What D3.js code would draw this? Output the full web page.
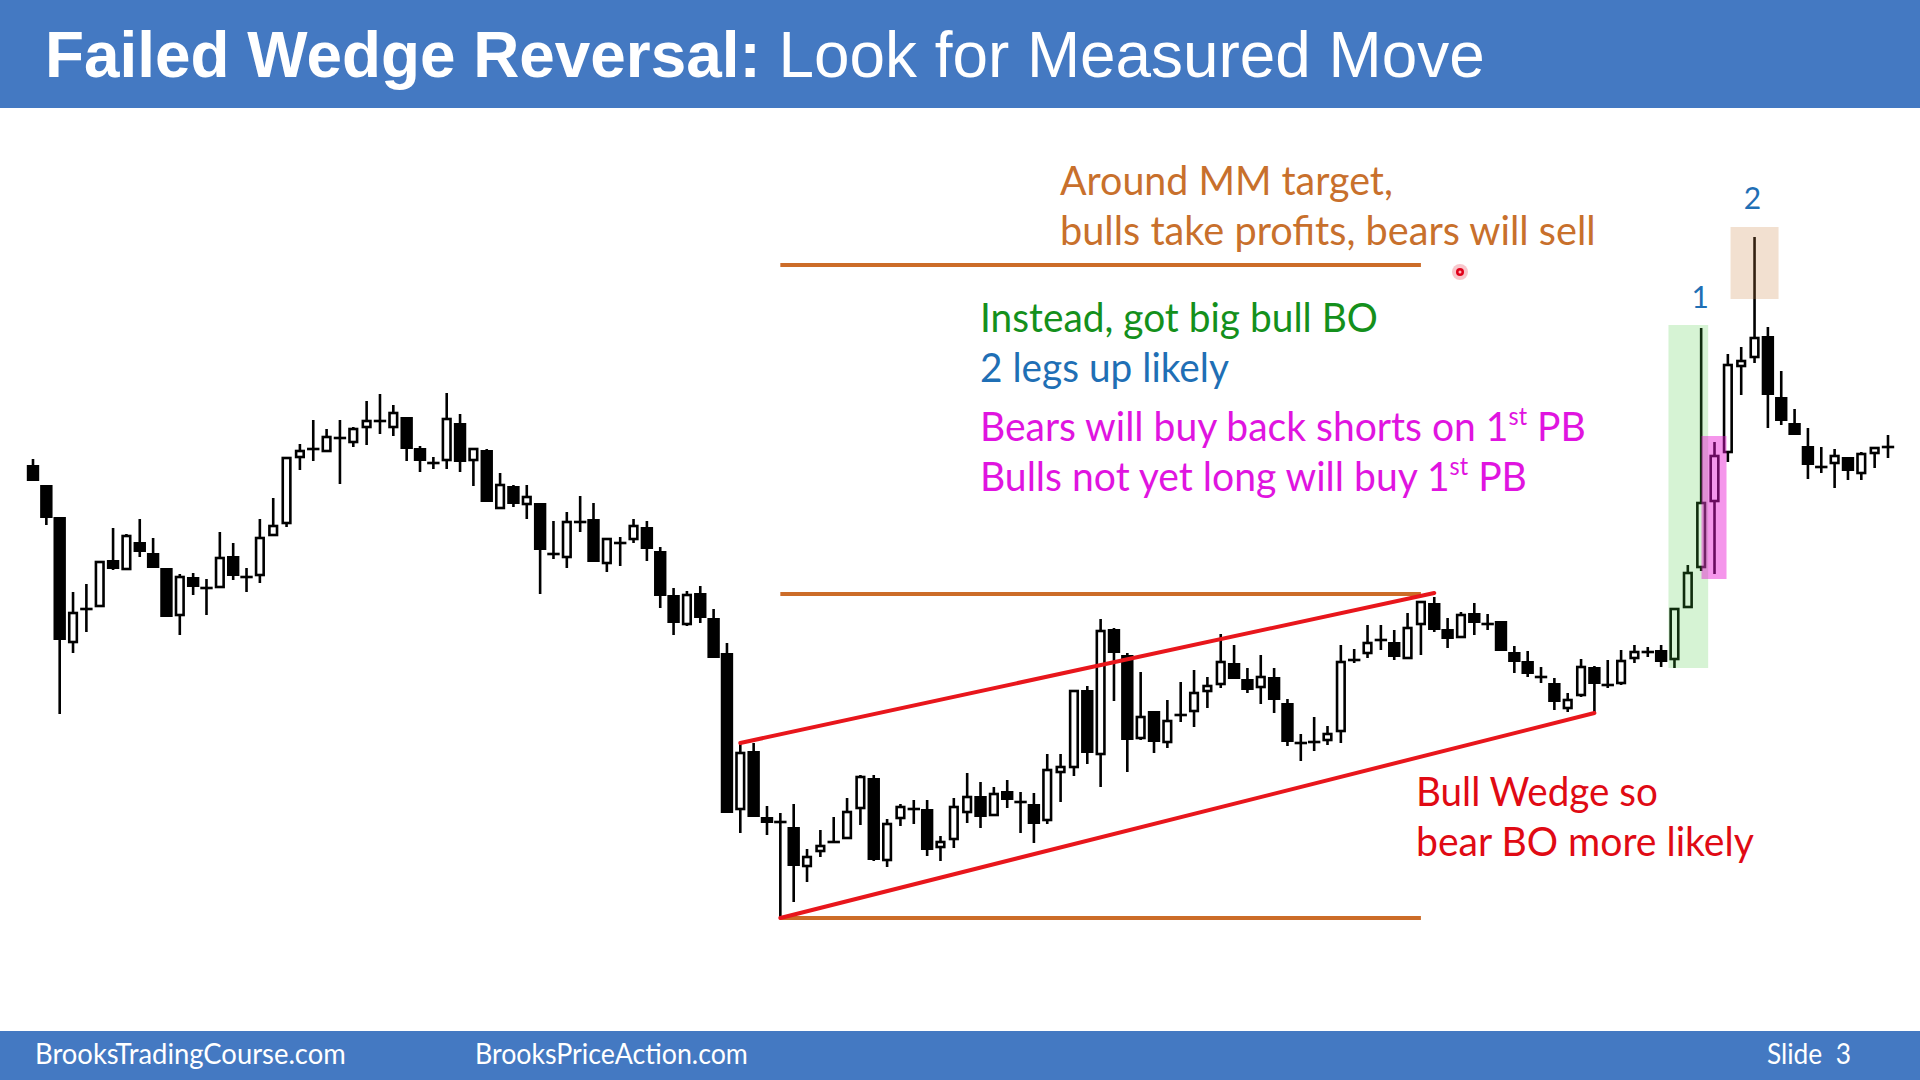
<!DOCTYPE html>
<html>
<head>
<meta charset="utf-8">
<script src="https://cdn.jsdelivr.net/npm/d3@7"></script>
<style>
  body { margin: 0; background: #fff; }
  svg { display: block; }
</style>
</head>
<body>
<div id="viz"></div>
<script>
// OHLC, one value per bar (arbitrary price units)
const open = [535,515,483,358,391,394,440,431,458,447,432,385,423,412,413,444,423,425,465,477,
  543,551,549,562,558,573,579,573,583,552,537,540,577,540,550,492,514,496,497,446,
  443,478,481,437,457,461,473,449,405,376,407,382,347,191,249,183,178,173,134,149,
  158,162,192,222,140,182,191,191,153,161,188,204,185,209,198,196,180,228,233,310,
  246,371,345,262,289,258,285,289,309,316,337,321,313,323,297,257,258,260,269,340,
  347,360,358,342,376,397,371,363,387,376,379,348,339,323,317,292,305,333,315,317,
  342,348,350,341,393,433,499,548,634,643,664,603,577,554,533,537,543,527,547,553];
const high = [541,515,483,408,416,439,472,466,481,462,432,426,427,421,468,457,432,481,502,543,
  556,580,571,580,573,599,606,595,583,554,543,607,586,551,551,527,515,515,497,479,
  488,504,497,462,463,481,479,453,412,409,414,391,357,257,257,194,187,196,151,170,
  183,202,225,225,181,196,200,200,164,202,227,218,213,220,208,207,246,246,309,314,
  381,372,347,328,289,300,318,330,323,366,355,332,345,332,301,266,283,274,355,351,
  375,375,370,387,398,403,382,388,397,386,379,354,349,333,322,307,341,334,340,350,
  355,353,355,391,435,672,558,646,653,763,673,629,591,572,553,551,543,548,552,565];
const low = [519,475,286,347,368,393,430,430,443,432,383,365,405,385,413,420,408,417,464,473,
  530,539,548,516,553,555,566,564,539,528,531,531,528,514,498,492,493,481,406,441,
  432,468,438,428,434,457,439,392,365,374,377,342,187,167,183,165,82,98,118,143,
  157,161,175,139,133,174,176,144,139,152,177,172,185,192,167,157,176,198,224,236,
  213,299,228,260,247,252,278,273,292,312,321,307,296,287,254,239,249,255,257,337,
  342,350,340,342,345,368,352,363,365,370,349,327,323,317,290,288,303,287,312,315,
  337,343,333,332,393,429,426,538,605,637,572,575,565,521,527,512,520,520,532,542];
const close = [519,482,360,387,391,438,431,464,448,432,383,423,413,412,442,424,423,462,474,542,
  549,551,563,562,571,579,579,587,551,539,537,581,538,551,498,515,496,503,450,446,
  478,478,438,461,457,474,451,404,377,405,382,342,187,247,183,177,178,134,143,154,
  158,188,223,140,176,193,191,150,158,193,203,183,206,200,198,176,230,233,309,247,
  369,347,260,283,258,279,285,307,314,338,321,310,323,300,258,257,258,266,338,340,
  357,360,343,372,398,370,361,385,377,376,349,338,326,323,298,300,333,316,315,339,
  348,348,338,391,427,497,544,635,639,662,605,579,565,535,533,544,529,546,552,553];

// measured-move levels, wedge trendlines [bar, price], highlighted bars
const mmLevels = [82, 406, 735];
const mmBars = [56, 104];
const wedgeUpper = [[53, 257], [105, 407]];
const wedgeLower = [[56, 82], [117, 287]];
const legBars = [125, 129];          // "1" and "2"
const bullBoBars = [123, 125];       // green zone
const pullbackBar = 126;             // pink zone
const climaxBar = 129;               // tan zone

const W = 1920, H = 1080;
const svg = d3.select("#viz").append("svg")
    .attr("width", W)
    .attr("height", H)
    .style("font-family", "Lato, 'Open Sans', sans-serif");

svg.append("rect").attr("width", W).attr("height", H).attr("fill", "#ffffff");

const x = d3.scaleLinear().domain([0, open.length - 1]).range([33, 1888]);
const y = d3.scaleLinear().domain([80, 780]).range([920, 220]);

// text helper: squeeze each line horizontally to the width it has on the slide
function label(parent, px, py, width, parts, opts) {
    const g = parent.append("g").attr("transform", `translate(${px},${py})`);
    const t = g.append("text")
        .attr("x", 0).attr("y", 0)
        .attr("fill", opts.color)
        .attr("font-size", opts.size)
        .style("font-family", opts.family || "Lato, sans-serif");
    parts.forEach(p => {
        const s = t.append("tspan").text(p.t);
        if (p.bold) s.attr("font-weight", "bold");
        if (p.sup) s.attr("font-size", opts.size * 0.6).attr("dy", -opts.size * 0.38);
        if (p.after) s.attr("dy", opts.size * 0.38);
    });
    if (width) {
        const w = t.node().getBBox().width;
        g.attr("transform", `translate(${px},${py}) scale(${width / w},1)`);
    }
    if (opts.anchor) t.attr("text-anchor", opts.anchor);
    return g;
}

// header / footer bars
svg.append("rect").attr("x", 0).attr("y", 0).attr("width", W).attr("height", 108).attr("fill", "#4479c2");
svg.append("rect").attr("x", 0).attr("y", 1031).attr("width", W).attr("height", 49).attr("fill", "#4479c2");

label(svg, 45, 77, 1440, [{t: "Failed Wedge Reversal:", bold: true}, {t: " Look for Measured Move"}],
    {color: "#ffffff", size: 64, family: "'Liberation Sans', Arial, sans-serif"});

label(svg, 35, 1064, 311, [{t: "BrooksTradingCourse.com"}], {color: "#ffffff", size: 28});
label(svg, 475, 1064, 273, [{t: "BrooksPriceAction.com"}], {color: "#ffffff", size: 28});
label(svg, 1767, 1064, 84, [{t: "Slide\u00a0 3"}], {color: "#ffffff", size: 28});

// measured move lines
const lines = svg.append("g");
lines.selectAll("line.mm")
    .data(mmLevels)
    .join("line")
        .attr("class", "mm")
        .attr("x1", x(mmBars[0]))
        .attr("x2", x(mmBars[1]))
        .attr("y1", d => y(d))
        .attr("y2", d => y(d))
        .attr("stroke", "#cc6c28")
        .attr("stroke-width", 4);

// candles
const bars = svg.append("g")
    .selectAll("g")
    .data(open.map((o, i) => ({i: i, o: o, h: high[i], l: low[i], c: close[i]})))
    .join("g");

bars.append("line")
    .attr("x1", d => x(d.i)).attr("x2", d => x(d.i))
    .attr("y1", d => y(d.h)).attr("y2", d => y(d.l))
    .attr("stroke", "#000").attr("stroke-width", 2.6);

bars.filter(d => d.c > d.o).append("rect")
    .attr("x", d => x(d.i) - 3.8)
    .attr("width", 7.6)
    .attr("y", d => y(d.c))
    .attr("height", d => Math.max(1, y(d.o) - y(d.c)))
    .attr("fill", "#fff")
    .attr("stroke", "#000")
    .attr("stroke-width", 2.6);

bars.filter(d => d.c < d.o).append("rect")
    .attr("x", d => x(d.i) - 6.2)
    .attr("width", 12.4)
    .attr("y", d => y(d.o))
    .attr("height", d => Math.max(2.6, y(d.c) - y(d.o)))
    .attr("fill", "#000");

bars.filter(d => d.c === d.o).append("rect")
    .attr("x", d => x(d.i) - 6.2)
    .attr("width", 12.4)
    .attr("y", d => y(d.o) - 1.3)
    .attr("height", 2.6)
    .attr("fill", "#000");

// wedge trendlines
[wedgeUpper, wedgeLower].forEach(seg => {
    svg.append("line")
        .attr("x1", x(seg[0][0])).attr("y1", y(seg[0][1]))
        .attr("x2", x(seg[1][0])).attr("y2", y(seg[1][1]))
        .attr("stroke", "#e8161c")
        .attr("stroke-width", 4)
        .attr("stroke-linecap", "round");
});

// highlight boxes over the breakout bars
svg.append("rect")
    .attr("x", x(bullBoBars[0]) - 6)
    .attr("width", x(bullBoBars[1]) - x(bullBoBars[0]) + 13)
    .attr("y", y(high[bullBoBars[1]]) - 3)
    .attr("height", y(low[bullBoBars[0]]) - y(high[bullBoBars[1]]) + 3)
    .attr("fill", "rgb(70,200,60)").attr("fill-opacity", 0.22);

svg.append("rect")
    .attr("x", x(pullbackBar) - 13)
    .attr("width", 25)
    .attr("y", y(high[pullbackBar]) - 6)
    .attr("height", y(low[pullbackBar]) - y(high[pullbackBar]) + 11)
    .attr("fill", "rgb(233,22,211)").attr("fill-opacity", 0.45);

svg.append("rect")
    .attr("x", x(climaxBar) - 24)
    .attr("width", 48)
    .attr("y", y(high[climaxBar]) - 10)
    .attr("height", 72)
    .attr("fill", "rgb(204,132,68)").attr("fill-opacity", 0.25);

// leg numbers
label(svg, x(legBars[0]) - 1, 308, null, [{t: "1"}], {color: "#1f6fb5", size: 30, anchor: "middle"});
label(svg, x(legBars[1]) - 2, 209, null, [{t: "2"}], {color: "#1f6fb5", size: 30, anchor: "middle"});

// annotations
const notes = svg.append("g");
label(notes, 1060, 195, 333, [{t: "Around MM target,"}], {color: "#c8702c", size: 41});
label(notes, 1060, 245, 536, [{t: "bulls take profits, bears will sell"}], {color: "#c8702c", size: 41});
label(notes, 980, 332, 398, [{t: "Instead, got big bull BO"}], {color: "#14901c", size: 41});
label(notes, 980, 382, 249, [{t: "2 legs up likely"}], {color: "#1f6fb5", size: 41});
label(notes, 980, 441, 606, [{t: "Bears will buy back shorts on 1"}, {t: "st", sup: true}, {t: " PB", after: true}],
    {color: "#e014e0", size: 41});
label(notes, 980, 491, 547, [{t: "Bulls not yet long will buy 1"}, {t: "st", sup: true}, {t: " PB", after: true}],
    {color: "#e014e0", size: 41});
label(notes, 1416, 806, 242, [{t: "Bull Wedge so"}], {color: "#e00a14", size: 41});
label(notes, 1416, 856, 338, [{t: "bear BO more likely"}], {color: "#e00a14", size: 41});

// laser pointer dot
svg.append("circle").attr("cx", 1460).attr("cy", 272).attr("r", 8).attr("fill", "#f4a0a8").attr("opacity", 0.6);
svg.append("circle").attr("cx", 1460).attr("cy", 272).attr("r", 4).attr("fill", "#e0001a");
svg.append("circle").attr("cx", 1460).attr("cy", 272).attr("r", 1.5).attr("fill", "#ffb0b8");
</script>
</body>
</html>
